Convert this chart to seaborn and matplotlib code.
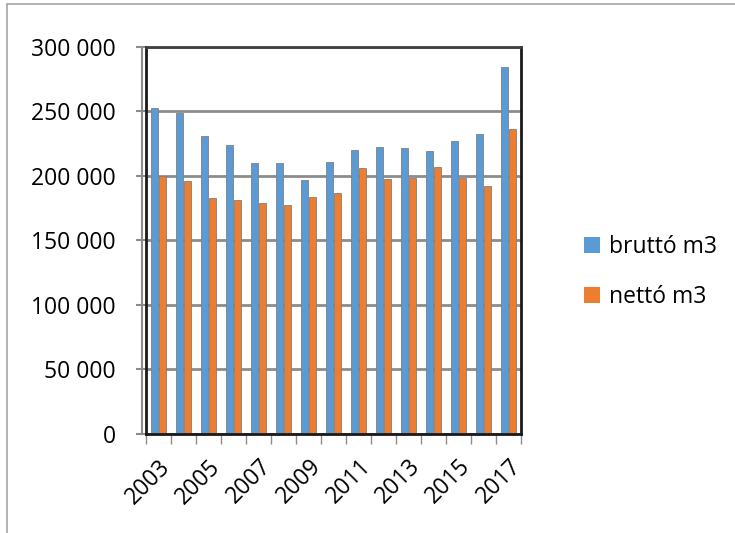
import matplotlib
matplotlib.use("Agg")
import matplotlib.pyplot as plt
from matplotlib.ticker import FuncFormatter, FixedLocator
from matplotlib.lines import Line2D
from matplotlib.patches import Patch
import seaborn as sns
import pandas as pd
import numpy as np

years = [str(y) for y in range(2003, 2018)]
brutto = [252700, 249000, 231000, 224000, 210000, 210000, 197000, 211000,
          220000, 222500, 221700, 219400, 227000, 232600, 284500]
netto = [200000, 196000, 183000, 181000, 179300, 177500, 184000, 186800,
         206000, 197700, 198700, 207000, 198700, 192200, 236400]
series_names = ["bruttó m3", "nettó m3"]
colors = ["#5b9bd5", "#ed7d31"]

df = pd.DataFrame({
    "year": years * 2,
    "value": brutto + netto,
    "series": [series_names[0]] * len(years) + [series_names[1]] * len(years),
})

sns.set_theme(style="white")
plt.rcParams["font.family"] = ["Open Sans", "DejaVu Sans"]
plt.rcParams["text.color"] = "black"
plt.rcParams["xtick.color"] = "black"
plt.rcParams["ytick.color"] = "black"

fig = plt.figure(figsize=(7.35, 5.33), dpi=100)
ax = fig.add_axes([0.199, 0.186, 0.51, 0.726])

sns.barplot(data=df, x="year", y="value", hue="series", order=years,
            hue_order=series_names, palette=colors, saturation=1,
            width=0.64, gap=0.08, edgecolor="#808080", linewidth=0.6,
            legend=False, ax=ax)

ax.set_ylim(0, 300000)
ax.set_xlim(-0.5, len(years) - 0.5)
ax.set_yticks(np.arange(0, 300001, 50000))
ax.yaxis.set_major_formatter(FuncFormatter(lambda v, p: f"{int(v):,}".replace(",", " ")))
ax.grid(axis="y", color="#8c8c8c", linewidth=2)
ax.set_axisbelow(True)

# category labels every other year, tick marks at category boundaries
ax.set_xticks(range(len(years)))
ax.set_xticklabels([y if i % 2 == 0 else "" for i, y in enumerate(years)],
                   rotation=45, ha="right", rotation_mode="anchor", fontsize=16.5)
ax.tick_params(axis="x", which="major", length=0, pad=15, colors="black")
ax.xaxis.set_minor_locator(FixedLocator(np.arange(-0.5, len(years), 1.0)))
ax.tick_params(axis="x", which="minor", bottom=True, length=7, color="#8c8c8c", width=1)
ax.tick_params(axis="y", left=True, length=7, color="#8c8c8c", width=1.5,
               labelsize=16.5, labelcolor="black", pad=15)

ax.set_xlabel("")
ax.set_ylabel("")

for side in ["left", "top", "right", "bottom"]:
    ax.spines[side].set_visible(True)
    ax.spines[side].set_color("#1a1a1a")
    ax.spines[side].set_linewidth(2)
ax.spines["top"].set_color("#404040")

# front edge of the value axis
ax.add_line(Line2D([-0.012, -0.012], [0, 1.0], transform=ax.transAxes,
                   color="#8c8c8c", linewidth=1.5, clip_on=False))

handles = [Patch(facecolor=c, edgecolor="none") for c in colors]
fig.legend(handles, series_names, loc="center left",
           bbox_to_anchor=(0.766, 0.49), frameon=False, fontsize=16.5,
           handlelength=0.7, handleheight=0.7, handletextpad=0.4,
           labelspacing=1.15)

# outer chart frame
fig.add_artist(Line2D([0.009, 0.009], [0, 0.992], transform=fig.transFigure,
                      color="#a6a6a6", linewidth=1.2))
fig.add_artist(Line2D([0.009, 1.0], [0.992, 0.992], transform=fig.transFigure,
                      color="#a6a6a6", linewidth=1.2))

fig.savefig("out.png", dpi=100)
